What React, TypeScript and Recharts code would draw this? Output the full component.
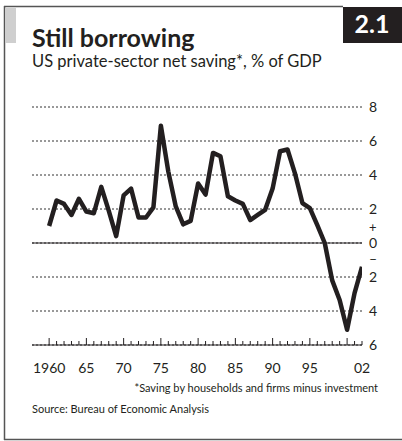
import { CartesianGrid, Line, LineChart, ReferenceLine, XAxis, YAxis } from "recharts";

// annual, 1960-2002
const years = [
  1960, 1961, 1962, 1963, 1964, 1965, 1966, 1967, 1968, 1969,
  1970, 1971, 1972, 1973, 1974, 1975, 1976, 1977, 1978, 1979,
  1980, 1981, 1982, 1983, 1984, 1985, 1986, 1987, 1988, 1989,
  1990, 1991, 1992, 1993, 1994, 1995, 1996, 1997, 1998, 1999,
  2000, 2001, 2002
];

// US private-sector net saving, % of GDP
const saving = [
  1.0, 2.5, 2.3, 1.65, 2.6, 1.85, 1.75, 3.3, 1.9, 0.4,
  2.8, 3.2, 1.5, 1.5, 2.1, 6.9, 4.2, 2.15, 1.1, 1.3,
  3.5, 2.85, 5.3, 5.1, 2.75, 2.5, 2.3, 1.35, 1.65, 1.95,
  3.2, 5.4, 5.5, 4.1, 2.35, 2.05, 1.05, 0.0, -2.2, -3.35,
  -5.1, -2.95, -1.4
];

const yTicks = [-6, -4, -2, 0, 2, 4, 6, 8];

const yearLabels: { [key: number]: string } = {
  1960: "1960",
  1965: "65",
  1970: "70",
  1975: "75",
  1980: "80",
  1985: "85",
  1990: "90",
  1995: "95",
  2002: "02"
};

const data = years.map((year, i) => ({ year, value: saving[i] }));

const FONT = "Lato, 'Open Sans', sans-serif";
const INK = "#231f20";

function YearTick(props: any) {
  const { x, y, payload } = props;
  const yr = payload.value;
  const major = yr % 5 === 0;
  const label = yearLabels[yr];
  return (
    <g>
      <line x1={x} x2={x} y1={y} y2={y - (major ? 7 : 4)} stroke={INK} strokeWidth={1} />
      {label && (
        <text x={x} y={y + 28} textAnchor="middle" fontSize={14} fill={INK} fontFamily={FONT}>
          {label}
        </text>
      )}
    </g>
  );
}

function ValueTick(props: any) {
  const { x, y, payload } = props;
  const v = payload.value;
  return (
    <g fontFamily={FONT} fill={INK} fontSize={14}>
      <text x={x + 7} y={y + 5}>{Math.abs(v)}</text>
      {v === 0 && (
        <>
          <text x={x + 7} y={y - 11} fontSize={13}>+</text>
          <text x={x + 7} y={y + 21}>–</text>
        </>
      )}
    </g>
  );
}

export default function App() {
  return (
    <div style={{ position: "absolute", top: 0, left: 0, width: 402, height: 441, background: "#fff" }}>
      <LineChart
        width={402}
        height={441}
        data={data}
        margin={{ top: 107, right: 0, left: 32, bottom: 66 }}>
        <CartesianGrid vertical={false} stroke="#333" strokeDasharray="2 2" />
        <XAxis
          dataKey="year"
          type="number"
          domain={[1957.7, 2002]}
          ticks={years}
          interval={0}
          allowDataOverflow
          height={30}
          tickLine={false}
          tickSize={0}
          tickMargin={0}
          axisLine={{ stroke: INK, strokeWidth: 1.2 }}
          tick={<YearTick />}
        />
        <YAxis
          orientation="right"
          domain={[-6, 8]}
          ticks={yTicks}
          interval={0}
          width={40}
          axisLine={false}
          tickLine={false}
          tickSize={0}
          tickMargin={0}
          tick={<ValueTick />}
        />
        <ReferenceLine y={0} stroke={INK} strokeWidth={1.2} />
        <Line
          type="linear"
          dataKey="value"
          stroke={INK}
          strokeWidth={4.5}
          strokeLinejoin="round"
          dot={false}
          isAnimationActive={false}
        />
      </LineChart>

      <svg width={402} height={441} style={{ position: "absolute", top: 0, left: 0, pointerEvents: "none" }}>
        <line x1={4.5} x2={4.5} y1={6} y2={440} stroke="#555" strokeWidth={1.5} />
        <line x1={4} x2={343} y1={6.5} y2={6.5} stroke="#555" strokeWidth={1.5} />
        <line x1={4} x2={402} y1={439.5} y2={439.5} stroke="#555" strokeWidth={1.5} />
        <rect x={5} y={8} width={11} height={35} fill="#cfcfcf" />
        <rect x={343} y={7} width={59} height={36} fill={INK} />
        <text x={372} y={33} textAnchor="middle" fill="#fff" fontSize={25} fontWeight={700} fontFamily={FONT}>
          2.1
        </text>
        <text x={32} y={47} fill={INK} fontSize={25} fontWeight={700} fontFamily={FONT}>
          Still borrowing
        </text>
        <text x={32} y={67} fill={INK} fontSize={16.5} fontFamily={FONT}>
          US private-sector net saving*, % of GDP
        </text>
        <text x={378} y={392} textAnchor="end" fill={INK} fontSize={11} fontFamily={FONT}>
          *Saving by households and firms minus investment
        </text>
        <text x={32} y={413} fill={INK} fontSize={11} fontFamily={FONT}>
          Source: Bureau of Economic Analysis
        </text>
      </svg>
    </div>
  );
}
